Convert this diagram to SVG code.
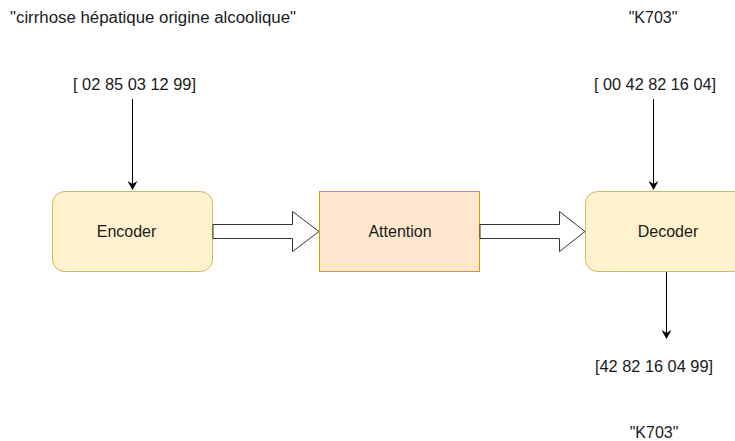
<svg xmlns="http://www.w3.org/2000/svg" width="735" height="441" viewBox="0 0 735 441">
<defs>
<style>
text{font-family:"Liberation Sans",Arial,sans-serif;font-size:16px;fill:#1a1a1a;text-anchor:middle}
.enc{fill:#fff2cc;stroke:#d6b656;stroke-width:1}
.att{fill:#ffe6cc;stroke:#d79b00;stroke-width:1}
.ln{stroke:#000;stroke-width:1;fill:none}
.big{fill:#fff;stroke:#333;stroke-width:1}
</style>
<marker id="ah" markerWidth="10" markerHeight="10" refX="8" refY="5" orient="auto" markerUnits="userSpaceOnUse">
<path d="M0,0 L9,5 L0,10 L3,5 Z" fill="#000"/>
</marker>
</defs>
<rect width="735" height="441" fill="#fff"/>
<g id="label-source"><text x="10" y="23" style="text-anchor:start" textLength="286" lengthAdjust="spacingAndGlyphs">"cirrhose hépatique origine alcoolique"</text></g>
<g id="label-target"><text x="653" y="23">"K703"</text></g>
<g id="tokens-in"><text x="134.5" y="90" textLength="123" lengthAdjust="spacingAndGlyphs">[ 02 85 03 12 99]</text></g>
<g id="tokens-dec"><text x="655" y="90" textLength="122" lengthAdjust="spacingAndGlyphs">[ 00 42 82 16 04]</text></g>
<g id="tokens-out"><text x="654" y="372" textLength="118" lengthAdjust="spacingAndGlyphs">[42 82 16 04 99]</text></g>
<g id="label-out"><text x="654" y="438">"K703"</text></g>
<g id="encoder"><rect class="enc" x="52.5" y="191.5" width="160" height="80" rx="12"/><text x="126.5" y="237">Encoder</text></g>
<g id="attention"><rect class="att" x="319.5" y="191.5" width="160" height="80"/><text x="400" y="237">Attention</text></g>
<g id="decoder"><rect class="enc" x="585.5" y="191.5" width="160" height="80" rx="12"/><text x="668" y="237">Decoder</text></g>
<g id="connectors">
<path class="ln" d="M132.5,99 V189" marker-end="url(#ah)"/>
<path class="ln" d="M653.5,99 V189" marker-end="url(#ah)"/>
<path class="ln" d="M666.5,272 V338" marker-end="url(#ah)"/>
<path class="big" d="M213,224.5 H292.5 V211.5 L319,231.5 L292.5,251.5 V238.5 H213 Z"/>
<path class="big" d="M480,224.5 H559.5 V211.5 L585,231.5 L559.5,251.5 V238.5 H480 Z"/>
</g>
</svg>
